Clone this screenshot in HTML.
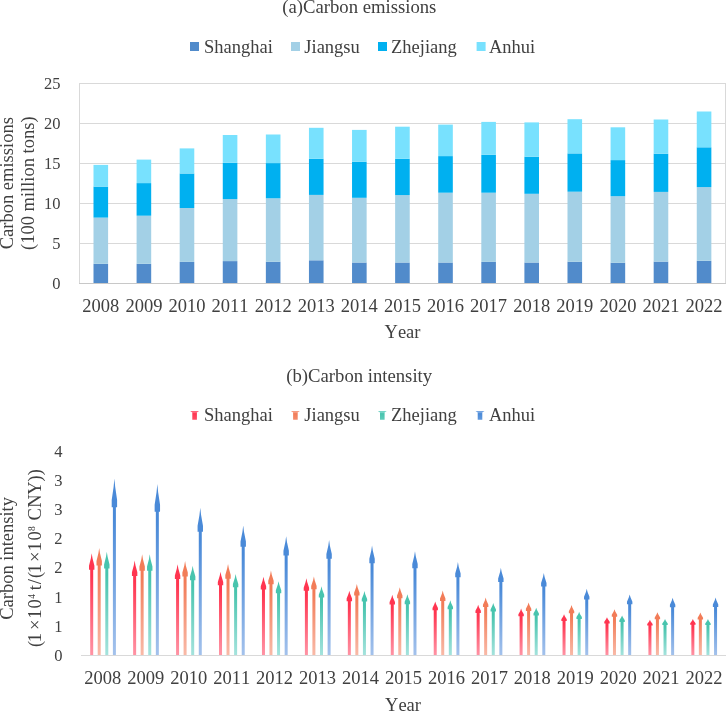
<!DOCTYPE html><html><head><meta charset="utf-8"><style>html,body{margin:0;padding:0;background:#fff;}svg{display:block;will-change:transform;}text{font-family:"Liberation Serif",serif;fill:#404040;font-kerning:none;}</style></head><body>
<svg width="726" height="711" viewBox="0 0 726 711">
<defs>
<linearGradient id="g0" x1="0" y1="0" x2="0" y2="1"><stop offset="0" stop-color="#ff3550"/><stop offset="0.22" stop-color="#ff3550"/><stop offset="1" stop-color="#ff94a5"/></linearGradient>
<linearGradient id="g1" x1="0" y1="0" x2="0" y2="1"><stop offset="0" stop-color="#f27c58"/><stop offset="0.22" stop-color="#f27c58"/><stop offset="1" stop-color="#f9baa8"/></linearGradient>
<linearGradient id="g2" x1="0" y1="0" x2="0" y2="1"><stop offset="0" stop-color="#48c4ae"/><stop offset="0.22" stop-color="#48c4ae"/><stop offset="1" stop-color="#a5e3dd"/></linearGradient>
<linearGradient id="g3" x1="0" y1="0" x2="0" y2="1"><stop offset="0" stop-color="#4a8ad8"/><stop offset="0.22" stop-color="#4a8ad8"/><stop offset="1" stop-color="#a4c2ec"/></linearGradient>
<linearGradient id="lg0" x1="0" y1="0" x2="0" y2="1"><stop offset="0" stop-color="#ff647a"/><stop offset="0.2" stop-color="#ff647a"/><stop offset="0.3" stop-color="#ff3550"/><stop offset="1" stop-color="#ff4d65"/></linearGradient>
<linearGradient id="lg1" x1="0" y1="0" x2="0" y2="1"><stop offset="0" stop-color="#f69b80"/><stop offset="0.2" stop-color="#f69b80"/><stop offset="0.3" stop-color="#f27c58"/><stop offset="1" stop-color="#f48c6c"/></linearGradient>
<linearGradient id="lg2" x1="0" y1="0" x2="0" y2="1"><stop offset="0" stop-color="#76d4c6"/><stop offset="0.2" stop-color="#76d4c6"/><stop offset="0.3" stop-color="#48c4ae"/><stop offset="1" stop-color="#5fccba"/></linearGradient>
<linearGradient id="lg3" x1="0" y1="0" x2="0" y2="1"><stop offset="0" stop-color="#77a6e2"/><stop offset="0.2" stop-color="#77a6e2"/><stop offset="0.3" stop-color="#4a8ad8"/><stop offset="1" stop-color="#6098dd"/></linearGradient>
</defs>
<rect width="726" height="711" fill="#fff"/>
<text x="359.3" y="13" font-size="18.7" text-anchor="middle">(a)Carbon emissions</text>
<rect x="190.0" y="42" width="9" height="9" fill="#518bcb"/>
<text x="204.0" y="52.5" font-size="18.5">Shanghai</text>
<rect x="291.0" y="42" width="9" height="9" fill="#a3d0e6"/>
<text x="304.3" y="52.5" font-size="18.5">Jiangsu</text>
<rect x="378.0" y="42" width="9" height="9" fill="#00b0f0"/>
<text x="391.0" y="52.5" font-size="18.5">Zhejiang</text>
<rect x="476.6" y="42" width="9" height="9" fill="#78e1fe"/>
<text x="489.0" y="52.5" font-size="18.5">Anhui</text>
<line x1="79" x2="726" y1="243.5" y2="243.5" stroke="#d9d9d9" stroke-width="1"/>
<line x1="79" x2="726" y1="203.5" y2="203.5" stroke="#d9d9d9" stroke-width="1"/>
<line x1="79" x2="726" y1="163.5" y2="163.5" stroke="#d9d9d9" stroke-width="1"/>
<line x1="79" x2="726" y1="123.5" y2="123.5" stroke="#d9d9d9" stroke-width="1"/>
<rect x="79.5" y="83.5" width="646" height="200" fill="none" stroke="#d9d9d9" stroke-width="1"/>
<rect x="93.50" y="263.80" width="14.6" height="19.70" fill="#518bcb"/>
<rect x="93.50" y="217.60" width="14.6" height="46.20" fill="#a3d0e6"/>
<rect x="93.50" y="186.60" width="14.6" height="31.00" fill="#00b0f0"/>
<rect x="93.50" y="164.90" width="14.6" height="21.70" fill="#78e1fe"/>
<rect x="136.59" y="263.80" width="14.6" height="19.70" fill="#518bcb"/>
<rect x="136.59" y="215.70" width="14.6" height="48.10" fill="#a3d0e6"/>
<rect x="136.59" y="183.10" width="14.6" height="32.60" fill="#00b0f0"/>
<rect x="136.59" y="159.60" width="14.6" height="23.50" fill="#78e1fe"/>
<rect x="179.68" y="261.90" width="14.6" height="21.60" fill="#518bcb"/>
<rect x="179.68" y="208.00" width="14.6" height="53.90" fill="#a3d0e6"/>
<rect x="179.68" y="173.50" width="14.6" height="34.50" fill="#00b0f0"/>
<rect x="179.68" y="148.40" width="14.6" height="25.10" fill="#78e1fe"/>
<rect x="222.77" y="261.10" width="14.6" height="22.40" fill="#518bcb"/>
<rect x="222.77" y="199.10" width="14.6" height="62.00" fill="#a3d0e6"/>
<rect x="222.77" y="162.80" width="14.6" height="36.30" fill="#00b0f0"/>
<rect x="222.77" y="135.00" width="14.6" height="27.80" fill="#78e1fe"/>
<rect x="265.86" y="261.70" width="14.6" height="21.80" fill="#518bcb"/>
<rect x="265.86" y="198.30" width="14.6" height="63.40" fill="#a3d0e6"/>
<rect x="265.86" y="163.10" width="14.6" height="35.20" fill="#00b0f0"/>
<rect x="265.86" y="134.50" width="14.6" height="28.60" fill="#78e1fe"/>
<rect x="308.95" y="260.30" width="14.6" height="23.20" fill="#518bcb"/>
<rect x="308.95" y="194.90" width="14.6" height="65.40" fill="#a3d0e6"/>
<rect x="308.95" y="158.80" width="14.6" height="36.10" fill="#00b0f0"/>
<rect x="308.95" y="127.80" width="14.6" height="31.00" fill="#78e1fe"/>
<rect x="352.04" y="262.50" width="14.6" height="21.00" fill="#518bcb"/>
<rect x="352.04" y="197.80" width="14.6" height="64.70" fill="#a3d0e6"/>
<rect x="352.04" y="161.70" width="14.6" height="36.10" fill="#00b0f0"/>
<rect x="352.04" y="129.90" width="14.6" height="31.80" fill="#78e1fe"/>
<rect x="395.13" y="262.50" width="14.6" height="21.00" fill="#518bcb"/>
<rect x="395.13" y="195.10" width="14.6" height="67.40" fill="#a3d0e6"/>
<rect x="395.13" y="158.80" width="14.6" height="36.30" fill="#00b0f0"/>
<rect x="395.13" y="126.70" width="14.6" height="32.10" fill="#78e1fe"/>
<rect x="438.22" y="262.50" width="14.6" height="21.00" fill="#518bcb"/>
<rect x="438.22" y="192.70" width="14.6" height="69.80" fill="#a3d0e6"/>
<rect x="438.22" y="156.10" width="14.6" height="36.60" fill="#00b0f0"/>
<rect x="438.22" y="124.60" width="14.6" height="31.50" fill="#78e1fe"/>
<rect x="481.31" y="261.90" width="14.6" height="21.60" fill="#518bcb"/>
<rect x="481.31" y="192.70" width="14.6" height="69.20" fill="#a3d0e6"/>
<rect x="481.31" y="154.80" width="14.6" height="37.90" fill="#00b0f0"/>
<rect x="481.31" y="121.90" width="14.6" height="32.90" fill="#78e1fe"/>
<rect x="524.40" y="262.50" width="14.6" height="21.00" fill="#518bcb"/>
<rect x="524.40" y="193.80" width="14.6" height="68.70" fill="#a3d0e6"/>
<rect x="524.40" y="156.70" width="14.6" height="37.10" fill="#00b0f0"/>
<rect x="524.40" y="122.40" width="14.6" height="34.30" fill="#78e1fe"/>
<rect x="567.49" y="261.70" width="14.6" height="21.80" fill="#518bcb"/>
<rect x="567.49" y="191.70" width="14.6" height="70.00" fill="#a3d0e6"/>
<rect x="567.49" y="153.40" width="14.6" height="38.30" fill="#00b0f0"/>
<rect x="567.49" y="119.20" width="14.6" height="34.20" fill="#78e1fe"/>
<rect x="610.58" y="262.70" width="14.6" height="20.80" fill="#518bcb"/>
<rect x="610.58" y="196.20" width="14.6" height="66.50" fill="#a3d0e6"/>
<rect x="610.58" y="160.10" width="14.6" height="36.10" fill="#00b0f0"/>
<rect x="610.58" y="127.30" width="14.6" height="32.80" fill="#78e1fe"/>
<rect x="653.67" y="261.60" width="14.6" height="21.90" fill="#518bcb"/>
<rect x="653.67" y="191.90" width="14.6" height="69.70" fill="#a3d0e6"/>
<rect x="653.67" y="153.70" width="14.6" height="38.20" fill="#00b0f0"/>
<rect x="653.67" y="119.50" width="14.6" height="34.20" fill="#78e1fe"/>
<rect x="696.76" y="260.80" width="14.6" height="22.70" fill="#518bcb"/>
<rect x="696.76" y="187.10" width="14.6" height="73.70" fill="#a3d0e6"/>
<rect x="696.76" y="147.30" width="14.6" height="39.80" fill="#00b0f0"/>
<rect x="696.76" y="111.50" width="14.6" height="35.80" fill="#78e1fe"/>
<line x1="79" x2="726" y1="283.5" y2="283.5" stroke="#c8c8c8" stroke-width="1"/>
<text x="60.5" y="289.0" font-size="16.5" text-anchor="end">0</text>
<text x="60.5" y="249.0" font-size="16.5" text-anchor="end">5</text>
<text x="60.5" y="209.0" font-size="16.5" text-anchor="end">10</text>
<text x="60.5" y="169.0" font-size="16.5" text-anchor="end">15</text>
<text x="60.5" y="129.0" font-size="16.5" text-anchor="end">20</text>
<text x="60.5" y="89.0" font-size="16.5" text-anchor="end">25</text>
<text x="100.8" y="311.5" font-size="18.5" text-anchor="middle">2008</text>
<text x="143.9" y="311.5" font-size="18.5" text-anchor="middle">2009</text>
<text x="187.0" y="311.5" font-size="18.5" text-anchor="middle">2010</text>
<text x="230.1" y="311.5" font-size="18.5" text-anchor="middle">2011</text>
<text x="273.2" y="311.5" font-size="18.5" text-anchor="middle">2012</text>
<text x="316.2" y="311.5" font-size="18.5" text-anchor="middle">2013</text>
<text x="359.3" y="311.5" font-size="18.5" text-anchor="middle">2014</text>
<text x="402.4" y="311.5" font-size="18.5" text-anchor="middle">2015</text>
<text x="445.5" y="311.5" font-size="18.5" text-anchor="middle">2016</text>
<text x="488.6" y="311.5" font-size="18.5" text-anchor="middle">2017</text>
<text x="531.7" y="311.5" font-size="18.5" text-anchor="middle">2018</text>
<text x="574.8" y="311.5" font-size="18.5" text-anchor="middle">2019</text>
<text x="617.9" y="311.5" font-size="18.5" text-anchor="middle">2020</text>
<text x="661.0" y="311.5" font-size="18.5" text-anchor="middle">2021</text>
<text x="704.1" y="311.5" font-size="18.5" text-anchor="middle">2022</text>
<text x="402.5" y="338.3" font-size="18.5" text-anchor="middle">Year</text>
<text transform="translate(13.4,183.2) rotate(-90)" font-size="18.5" text-anchor="middle">Carbon emissions</text>
<text transform="translate(33.8,183.2) rotate(-90)" font-size="18.5" text-anchor="middle">(100 million tons)</text>
<text x="359.2" y="381.6" font-size="18.7" text-anchor="middle">(b)Carbon intensity</text>
<path d="M190.10 411 H199.10 L196.90 412.6 V419.7 H192.30 V412.6 Z" fill="url(#lg0)"/>
<text x="204.0" y="420.7" font-size="18.5">Shanghai</text>
<path d="M290.90 411 H299.90 L297.70 412.6 V419.7 H293.10 V412.6 Z" fill="url(#lg1)"/>
<text x="304.3" y="420.7" font-size="18.5">Jiangsu</text>
<path d="M377.80 411 H386.80 L384.60 412.6 V419.7 H380.00 V412.6 Z" fill="url(#lg2)"/>
<text x="391.0" y="420.7" font-size="18.5">Zhejiang</text>
<path d="M475.50 411 H484.50 L482.30 412.6 V419.7 H477.70 V412.6 Z" fill="url(#lg3)"/>
<text x="489.0" y="420.7" font-size="18.5">Anhui</text>
<path d="M91.70 553.20 L92.51 558.17 L94.40 565.63 L94.40 569.77 L93.20 569.77 L93.20 655.50 L90.20 655.50 L90.20 569.77 L89.00 569.77 L89.00 565.63 L90.89 558.17 Z" fill="url(#g0)"/>
<path d="M99.20 548.00 L100.01 553.22 L101.90 561.06 L101.90 565.41 L100.70 565.41 L100.70 655.50 L97.70 655.50 L97.70 565.41 L96.50 565.41 L96.50 561.06 L98.39 553.22 Z" fill="url(#g1)"/>
<path d="M106.80 551.80 L107.61 556.84 L109.50 564.40 L109.50 568.60 L108.30 568.60 L108.30 655.50 L105.30 655.50 L105.30 568.60 L104.10 568.60 L104.10 564.40 L105.99 556.84 Z" fill="url(#g2)"/>
<path d="M114.40 478.50 L115.21 487.10 L117.10 500.01 L117.10 507.17 L115.90 507.17 L115.90 655.50 L112.90 655.50 L112.90 507.17 L111.70 507.17 L111.70 500.01 L113.59 487.10 Z" fill="url(#g3)"/>
<path d="M134.64 560.60 L135.45 565.21 L137.34 572.13 L137.34 575.97 L136.14 575.97 L136.14 655.50 L133.14 655.50 L133.14 575.97 L131.94 575.97 L131.94 572.13 L133.83 565.21 Z" fill="url(#g0)"/>
<path d="M142.14 554.30 L142.95 559.22 L144.84 566.60 L144.84 570.69 L143.64 570.69 L143.64 655.50 L140.64 655.50 L140.64 570.69 L139.44 570.69 L139.44 566.60 L141.33 559.22 Z" fill="url(#g1)"/>
<path d="M149.74 554.30 L150.55 559.22 L152.44 566.60 L152.44 570.69 L151.24 570.69 L151.24 655.50 L148.24 655.50 L148.24 570.69 L147.04 570.69 L147.04 566.60 L148.93 559.22 Z" fill="url(#g2)"/>
<path d="M157.34 483.90 L158.15 492.24 L160.04 504.75 L160.04 511.70 L158.84 511.70 L158.84 655.50 L155.84 655.50 L155.84 511.70 L154.64 511.70 L154.64 504.75 L156.53 492.24 Z" fill="url(#g3)"/>
<path d="M177.58 564.30 L178.39 568.73 L180.28 575.38 L180.28 579.07 L179.08 579.07 L179.08 655.50 L176.08 655.50 L176.08 579.07 L174.88 579.07 L174.88 575.38 L176.77 568.73 Z" fill="url(#g0)"/>
<path d="M185.08 561.10 L185.89 565.69 L187.78 572.57 L187.78 576.39 L186.58 576.39 L186.58 655.50 L183.58 655.50 L183.58 576.39 L182.38 576.39 L182.38 572.57 L184.27 565.69 Z" fill="url(#g1)"/>
<path d="M192.68 565.70 L193.49 570.06 L195.38 576.61 L195.38 580.25 L194.18 580.25 L194.18 655.50 L191.18 655.50 L191.18 580.25 L189.98 580.25 L189.98 576.61 L191.87 570.06 Z" fill="url(#g2)"/>
<path d="M200.28 507.80 L201.09 514.98 L202.98 525.75 L202.98 531.73 L201.78 531.73 L201.78 655.50 L198.78 655.50 L198.78 531.73 L197.58 531.73 L197.58 525.75 L199.47 514.98 Z" fill="url(#g3)"/>
<path d="M220.52 571.80 L221.33 575.87 L223.22 581.97 L223.22 585.36 L222.02 585.36 L222.02 655.50 L219.02 655.50 L219.02 585.36 L217.82 585.36 L217.82 581.97 L219.71 575.87 Z" fill="url(#g0)"/>
<path d="M228.02 563.90 L228.83 568.35 L230.72 575.03 L230.72 578.74 L229.52 578.74 L229.52 655.50 L226.52 655.50 L226.52 578.74 L225.32 578.74 L225.32 575.03 L227.21 568.35 Z" fill="url(#g1)"/>
<path d="M235.62 574.10 L236.43 578.06 L238.32 583.99 L238.32 587.29 L237.12 587.29 L237.12 655.50 L234.12 655.50 L234.12 587.29 L232.92 587.29 L232.92 583.99 L234.81 578.06 Z" fill="url(#g2)"/>
<path d="M243.22 525.60 L244.03 531.91 L245.92 541.38 L245.92 546.64 L244.72 546.64 L244.72 655.50 L241.72 655.50 L241.72 546.64 L240.52 546.64 L240.52 541.38 L242.41 531.91 Z" fill="url(#g3)"/>
<path d="M263.46 576.70 L264.27 580.53 L266.16 586.27 L266.16 589.47 L264.96 589.47 L264.96 655.50 L261.96 655.50 L261.96 589.47 L260.76 589.47 L260.76 586.27 L262.65 580.53 Z" fill="url(#g0)"/>
<path d="M270.96 570.50 L271.77 574.63 L273.66 580.83 L273.66 584.27 L272.46 584.27 L272.46 655.50 L269.46 655.50 L269.46 584.27 L268.26 584.27 L268.26 580.83 L270.15 574.63 Z" fill="url(#g1)"/>
<path d="M278.56 581.20 L279.37 584.81 L281.26 590.23 L281.26 593.24 L280.06 593.24 L280.06 655.50 L277.06 655.50 L277.06 593.24 L275.86 593.24 L275.86 590.23 L277.75 584.81 Z" fill="url(#g2)"/>
<path d="M286.16 536.20 L286.97 542.00 L288.86 550.69 L288.86 555.53 L287.66 555.53 L287.66 655.50 L284.66 655.50 L284.66 555.53 L283.46 555.53 L283.46 550.69 L285.35 542.00 Z" fill="url(#g3)"/>
<path d="M306.40 578.30 L307.21 582.05 L309.10 587.68 L309.10 590.81 L307.90 590.81 L307.90 655.50 L304.90 655.50 L304.90 590.81 L303.70 590.81 L303.70 587.68 L305.59 582.05 Z" fill="url(#g0)"/>
<path d="M313.90 576.50 L314.71 580.34 L316.60 586.10 L316.60 589.30 L315.40 589.30 L315.40 655.50 L312.40 655.50 L312.40 589.30 L311.20 589.30 L311.20 586.10 L313.09 580.34 Z" fill="url(#g1)"/>
<path d="M321.50 586.30 L322.31 589.66 L324.20 594.71 L324.20 597.51 L323.00 597.51 L323.00 655.50 L320.00 655.50 L320.00 597.51 L318.80 597.51 L318.80 594.71 L320.69 589.66 Z" fill="url(#g2)"/>
<path d="M329.10 540.10 L329.91 545.71 L331.80 554.12 L331.80 558.79 L330.60 558.79 L330.60 655.50 L327.60 655.50 L327.60 558.79 L326.40 558.79 L326.40 554.12 L328.29 545.71 Z" fill="url(#g3)"/>
<path d="M349.34 590.70 L350.15 593.85 L352.04 598.57 L352.04 601.20 L350.84 601.20 L350.84 655.50 L347.84 655.50 L347.84 601.20 L346.64 601.20 L346.64 598.57 L348.53 593.85 Z" fill="url(#g0)"/>
<path d="M356.84 584.00 L357.65 587.47 L359.54 592.69 L359.54 595.58 L358.34 595.58 L358.34 655.50 L355.34 655.50 L355.34 595.58 L354.14 595.58 L354.14 592.69 L356.03 587.47 Z" fill="url(#g1)"/>
<path d="M364.44 591.10 L365.25 594.23 L367.14 598.92 L367.14 601.53 L365.94 601.53 L365.94 655.50 L362.94 655.50 L362.94 601.53 L361.74 601.53 L361.74 598.92 L363.63 594.23 Z" fill="url(#g2)"/>
<path d="M372.04 545.40 L372.85 550.75 L374.74 558.78 L374.74 563.24 L373.54 563.24 L373.54 655.50 L370.54 655.50 L370.54 563.24 L369.34 563.24 L369.34 558.78 L371.23 550.75 Z" fill="url(#g3)"/>
<path d="M392.28 594.70 L393.09 597.65 L394.98 602.09 L394.98 604.55 L393.78 604.55 L393.78 655.50 L390.78 655.50 L390.78 604.55 L389.58 604.55 L389.58 602.09 L391.47 597.65 Z" fill="url(#g0)"/>
<path d="M399.78 587.20 L400.59 590.52 L402.48 595.50 L402.48 598.26 L401.28 598.26 L401.28 655.50 L398.28 655.50 L398.28 598.26 L397.08 598.26 L397.08 595.50 L398.97 590.52 Z" fill="url(#g1)"/>
<path d="M407.38 594.30 L408.19 597.27 L410.08 601.74 L410.08 604.21 L408.88 604.21 L408.88 655.50 L405.88 655.50 L405.88 604.21 L404.68 604.21 L404.68 601.74 L406.57 597.27 Z" fill="url(#g2)"/>
<path d="M414.98 551.30 L415.79 556.36 L417.68 563.96 L417.68 568.18 L416.48 568.18 L416.48 655.50 L413.48 655.50 L413.48 568.18 L412.28 568.18 L412.28 563.96 L414.17 556.36 Z" fill="url(#g3)"/>
<path d="M435.22 601.50 L436.03 604.12 L437.92 608.06 L437.92 610.25 L436.72 610.25 L436.72 655.50 L433.72 655.50 L433.72 610.25 L432.52 610.25 L432.52 608.06 L434.41 604.12 Z" fill="url(#g0)"/>
<path d="M442.72 590.50 L443.53 593.66 L445.42 598.40 L445.42 601.03 L444.22 601.03 L444.22 655.50 L441.22 655.50 L441.22 601.03 L440.02 601.03 L440.02 598.40 L441.91 593.66 Z" fill="url(#g1)"/>
<path d="M450.32 600.30 L451.13 602.98 L453.02 607.01 L453.02 609.24 L451.82 609.24 L451.82 655.50 L448.82 655.50 L448.82 609.24 L447.62 609.24 L447.62 607.01 L449.51 602.98 Z" fill="url(#g2)"/>
<path d="M457.92 562.10 L458.73 566.64 L460.62 573.45 L460.62 577.23 L459.42 577.23 L459.42 655.50 L456.42 655.50 L456.42 577.23 L455.22 577.23 L455.22 573.45 L457.11 566.64 Z" fill="url(#g3)"/>
<path d="M478.16 604.70 L478.97 607.17 L480.86 610.87 L480.86 612.93 L479.66 612.93 L479.66 655.50 L476.66 655.50 L476.66 612.93 L475.46 612.93 L475.46 610.87 L477.35 607.17 Z" fill="url(#g0)"/>
<path d="M485.66 597.60 L486.47 600.41 L488.36 604.63 L488.36 606.98 L487.16 606.98 L487.16 655.50 L484.16 655.50 L484.16 606.98 L482.96 606.98 L482.96 604.63 L484.85 600.41 Z" fill="url(#g1)"/>
<path d="M493.26 603.00 L494.07 605.55 L495.96 609.38 L495.96 611.50 L494.76 611.50 L494.76 655.50 L491.76 655.50 L491.76 611.50 L490.56 611.50 L490.56 609.38 L492.45 605.55 Z" fill="url(#g2)"/>
<path d="M500.86 567.80 L501.67 572.06 L503.56 578.46 L503.56 582.01 L502.36 582.01 L502.36 655.50 L499.36 655.50 L499.36 582.01 L498.16 582.01 L498.16 578.46 L500.05 572.06 Z" fill="url(#g3)"/>
<path d="M521.10 608.60 L521.91 610.88 L523.80 614.30 L523.80 616.20 L522.60 616.20 L522.60 655.50 L519.60 655.50 L519.60 616.20 L518.40 616.20 L518.40 614.30 L520.29 610.88 Z" fill="url(#g0)"/>
<path d="M528.60 602.40 L529.41 604.98 L531.30 608.85 L531.30 611.00 L530.10 611.00 L530.10 655.50 L527.10 655.50 L527.10 611.00 L525.90 611.00 L525.90 608.85 L527.79 604.98 Z" fill="url(#g1)"/>
<path d="M536.20 607.70 L537.01 610.02 L538.90 613.51 L538.90 615.44 L537.70 615.44 L537.70 655.50 L534.70 655.50 L534.70 615.44 L533.50 615.44 L533.50 613.51 L535.39 610.02 Z" fill="url(#g2)"/>
<path d="M543.80 573.10 L544.61 577.10 L546.50 583.11 L546.50 586.45 L545.30 586.45 L545.30 655.50 L542.30 655.50 L542.30 586.45 L541.10 586.45 L541.10 583.11 L542.99 577.10 Z" fill="url(#g3)"/>
<path d="M564.04 614.30 L564.85 616.30 L566.74 619.31 L566.74 620.97 L565.54 620.97 L565.54 655.50 L562.54 655.50 L562.54 620.97 L561.34 620.97 L561.34 619.31 L563.23 616.30 Z" fill="url(#g0)"/>
<path d="M571.54 605.10 L572.35 607.55 L574.24 611.22 L574.24 613.26 L573.04 613.26 L573.04 655.50 L570.04 655.50 L570.04 613.26 L568.84 613.26 L568.84 611.22 L570.73 607.55 Z" fill="url(#g1)"/>
<path d="M579.14 611.80 L579.95 613.92 L581.84 617.11 L581.84 618.88 L580.64 618.88 L580.64 655.50 L577.64 655.50 L577.64 618.88 L576.44 618.88 L576.44 617.11 L578.33 613.92 Z" fill="url(#g2)"/>
<path d="M586.74 588.70 L587.55 591.95 L589.44 596.82 L589.44 599.52 L588.24 599.52 L588.24 655.50 L585.24 655.50 L585.24 599.52 L584.04 599.52 L584.04 596.82 L585.93 591.95 Z" fill="url(#g3)"/>
<path d="M606.98 617.20 L607.79 619.06 L609.68 621.85 L609.68 623.40 L608.48 623.40 L608.48 655.50 L605.48 655.50 L605.48 623.40 L604.28 623.40 L604.28 621.85 L606.17 619.06 Z" fill="url(#g0)"/>
<path d="M614.48 609.20 L615.29 611.45 L617.18 614.83 L617.18 616.70 L615.98 616.70 L615.98 655.50 L612.98 655.50 L612.98 616.70 L611.78 616.70 L611.78 614.83 L613.67 611.45 Z" fill="url(#g1)"/>
<path d="M622.08 615.40 L622.89 617.35 L624.78 620.27 L624.78 621.90 L623.58 621.90 L623.58 655.50 L620.58 655.50 L620.58 621.90 L619.38 621.90 L619.38 620.27 L621.27 617.35 Z" fill="url(#g2)"/>
<path d="M629.68 594.40 L630.49 597.37 L632.38 601.82 L632.38 604.30 L631.18 604.30 L631.18 655.50 L628.18 655.50 L628.18 604.30 L626.98 604.30 L626.98 601.82 L628.87 597.37 Z" fill="url(#g3)"/>
<path d="M649.92 619.70 L650.73 621.44 L652.62 624.05 L652.62 625.50 L651.42 625.50 L651.42 655.50 L648.42 655.50 L648.42 625.50 L647.22 625.50 L647.22 624.05 L649.11 621.44 Z" fill="url(#g0)"/>
<path d="M657.42 612.20 L658.23 614.30 L660.12 617.46 L660.12 619.21 L658.92 619.21 L658.92 655.50 L655.92 655.50 L655.92 619.21 L654.72 619.21 L654.72 617.46 L656.61 614.30 Z" fill="url(#g1)"/>
<path d="M665.02 619.00 L665.83 620.77 L667.72 623.43 L667.72 624.91 L666.52 624.91 L666.52 655.50 L663.52 655.50 L663.52 624.91 L662.32 624.91 L662.32 623.43 L664.21 620.77 Z" fill="url(#g2)"/>
<path d="M672.62 597.80 L673.43 600.60 L675.32 604.81 L675.32 607.15 L674.12 607.15 L674.12 655.50 L671.12 655.50 L671.12 607.15 L669.92 607.15 L669.92 604.81 L671.81 600.60 Z" fill="url(#g3)"/>
<path d="M692.86 618.90 L693.67 620.68 L695.56 623.35 L695.56 624.83 L694.36 624.83 L694.36 655.50 L691.36 655.50 L691.36 624.83 L690.16 624.83 L690.16 623.35 L692.05 620.68 Z" fill="url(#g0)"/>
<path d="M700.36 612.50 L701.17 614.59 L703.06 617.72 L703.06 619.47 L701.86 619.47 L701.86 655.50 L698.86 655.50 L698.86 619.47 L697.66 619.47 L697.66 617.72 L699.55 614.59 Z" fill="url(#g1)"/>
<path d="M707.96 619.10 L708.77 620.87 L710.66 623.52 L710.66 625.00 L709.46 625.00 L709.46 655.50 L706.46 655.50 L706.46 625.00 L705.26 625.00 L705.26 623.52 L707.15 620.87 Z" fill="url(#g2)"/>
<path d="M715.56 597.50 L716.37 600.32 L718.26 604.55 L718.26 606.90 L717.06 606.90 L717.06 655.50 L714.06 655.50 L714.06 606.90 L712.86 606.90 L712.86 604.55 L714.75 600.32 Z" fill="url(#g3)"/>
<line x1="81" x2="726" y1="655.5" y2="655.5" stroke="#d9d9d9" stroke-width="1"/>
<text x="62.5" y="661.0" font-size="16.5" text-anchor="end">0</text>
<text x="62.5" y="631.8" font-size="16.5" text-anchor="end">1</text>
<text x="62.5" y="602.6" font-size="16.5" text-anchor="end">1</text>
<text x="62.5" y="573.4" font-size="16.5" text-anchor="end">2</text>
<text x="62.5" y="544.2" font-size="16.5" text-anchor="end">2</text>
<text x="62.5" y="515.0" font-size="16.5" text-anchor="end">3</text>
<text x="62.5" y="485.8" font-size="16.5" text-anchor="end">3</text>
<text x="62.5" y="456.6" font-size="16.5" text-anchor="end">4</text>
<text x="102.8" y="684" font-size="18.5" text-anchor="middle">2008</text>
<text x="145.8" y="684" font-size="18.5" text-anchor="middle">2009</text>
<text x="188.7" y="684" font-size="18.5" text-anchor="middle">2010</text>
<text x="231.7" y="684" font-size="18.5" text-anchor="middle">2011</text>
<text x="274.6" y="684" font-size="18.5" text-anchor="middle">2012</text>
<text x="317.6" y="684" font-size="18.5" text-anchor="middle">2013</text>
<text x="360.5" y="684" font-size="18.5" text-anchor="middle">2014</text>
<text x="403.5" y="684" font-size="18.5" text-anchor="middle">2015</text>
<text x="446.4" y="684" font-size="18.5" text-anchor="middle">2016</text>
<text x="489.4" y="684" font-size="18.5" text-anchor="middle">2017</text>
<text x="532.3" y="684" font-size="18.5" text-anchor="middle">2018</text>
<text x="575.2" y="684" font-size="18.5" text-anchor="middle">2019</text>
<text x="618.2" y="684" font-size="18.5" text-anchor="middle">2020</text>
<text x="661.1" y="684" font-size="18.5" text-anchor="middle">2021</text>
<text x="704.1" y="684" font-size="18.5" text-anchor="middle">2022</text>
<text x="403" y="710.8" font-size="18.5" text-anchor="middle">Year</text>
<text transform="translate(13.3,558.4) rotate(-90)" font-size="18.5" text-anchor="middle">Carbon intensity</text>
<text transform="translate(40.6,650.0) rotate(-90)" font-size="18.5"><tspan x="3.01" y="0">(</tspan><tspan x="7.67" y="0">1</tspan><tspan x="19.97" y="0">×</tspan><tspan x="31.27" y="0">1</tspan><tspan x="41.58" y="0">0</tspan><tspan x="51.31" y="-6.1" font-size="9.5">4</tspan><tspan x="59.84" y="0">t</tspan><tspan x="65.78" y="0">/</tspan><tspan x="72.06" y="0">(</tspan><tspan x="76.77" y="0">1</tspan><tspan x="87.97" y="0">×</tspan><tspan x="98.87" y="0">1</tspan><tspan x="109.48" y="0">0</tspan><tspan x="119.08" y="-6.1" font-size="9.5">8</tspan><tspan x="129.61" y="0">C</tspan><tspan x="142.22" y="0">N</tspan><tspan x="155.15" y="0">Y</tspan><tspan x="168.53" y="0">)</tspan><tspan x="174.83" y="0">)</tspan></text>
</svg></body></html>
